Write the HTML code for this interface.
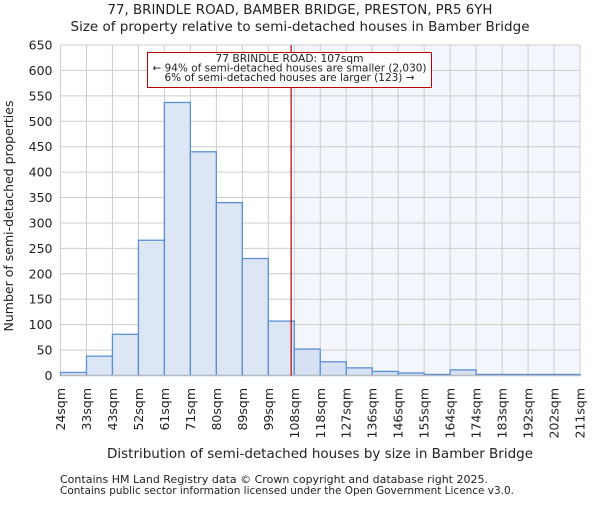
<!DOCTYPE html>
<html><head><meta charset="utf-8"><style>
body{margin:0;background:#fff;}
svg text{font-family:"DejaVu Sans","Liberation Sans",sans-serif;fill:#222;}
</style></head><body>
<svg id="chart" width="600" height="500" viewBox="0 0 600 500" xmlns="http://www.w3.org/2000/svg">
<text x="300" y="14" font-size="13.3" text-anchor="middle" textLength="385" lengthAdjust="spacingAndGlyphs">77, BRINDLE ROAD, BAMBER BRIDGE, PRESTON, PR5 6YH</text>
<text x="300" y="31" font-size="13.3" text-anchor="middle" textLength="459" lengthAdjust="spacingAndGlyphs">Size of property relative to semi-detached houses in Bamber Bridge</text>
<g id="plot"></g>
<text x="320" y="458" font-size="13.4" text-anchor="middle" textLength="426" lengthAdjust="spacingAndGlyphs">Distribution of semi-detached houses by size in Bamber Bridge</text>
<text transform="translate(13,216) rotate(-90)" font-size="12.5" text-anchor="middle">Number of semi-detached properties</text>
<text x="60" y="483" font-size="10.5" fill="#444" textLength="428" lengthAdjust="spacingAndGlyphs">Contains HM Land Registry data © Crown copyright and database right 2025.</text>
<text x="60" y="494" font-size="10.5" fill="#444" textLength="454" lengthAdjust="spacingAndGlyphs">Contains public sector information licensed under the Open Government Licence v3.0.</text>
</svg>
<script>
const binLabels=["24sqm","33sqm","43sqm","52sqm","61sqm","71sqm","80sqm","89sqm","99sqm","108sqm","118sqm","127sqm","136sqm","146sqm","155sqm","164sqm","174sqm","183sqm","192sqm","202sqm","211sqm"];
const counts=[6,38,81,266,537,440,340,230,107,52,27,15,8,5,2,11,2,2,2,2];
const yTicks=[0,50,100,150,200,250,300,350,400,450,500,550,600,650];
const markerBin=8.88;
const NS="http://www.w3.org/2000/svg";
const g=document.getElementById('plot');
const X0=60.5,X1=580,Y0=375.5,Y1=45,YMAX=650;
const nb=counts.length;
const xs=i=>X0+(X1-X0)*i/nb;
const ys=v=>Y0-(Y0-Y1)*v/YMAX;
function mk(t,a){const e=document.createElementNS(NS,t);for(const k in a)e.setAttribute(k,a[k]);g.appendChild(e);return e;}
let e;
const hb=Math.ceil(markerBin);
e=mk('rect',{x:xs(hb),y:Y1,width:X1-xs(hb),height:Y0-Y1,fill:'#f3f6fd'});


yTicks.forEach(v=>{
 e=mk('line',{x1:X0,x2:X1,y1:ys(v),y2:ys(v),stroke:'#cccccc','stroke-width':1});
 
 
 e=mk('text',{x:X0-8,y:ys(v)+4.5,'font-size':12.5,'text-anchor':'end'});e.textContent=v;
 
 
});
binLabels.forEach((l,i)=>{
 e=mk('line',{x1:xs(i),x2:xs(i),y1:Y1,y2:Y0,stroke:'#cccccc','stroke-width':1});
 
 
 e=mk('text',{transform:`translate(${xs(i)+4.5},388) rotate(-90)`,'font-size':12.5,'text-anchor':'end'});e.textContent=l;
 
 
});
counts.forEach((c,i)=>{
 e=mk('rect',{x:xs(i),y:ys(c),width:xs(i+1)-xs(i),height:Y0-ys(c),fill:i>=hb?'#d6e1f3':'#dde6f4',stroke:'#5b8fd6','stroke-width':1.3});
 
 
});
e=mk('line',{x1:X0,x2:X1,y1:Y0,y2:Y0,stroke:'#bbb','stroke-width':1});


const mx=xs(markerBin);
e=mk('line',{x1:mx,x2:mx,y1:Y1,y2:Y0,stroke:'#c00000','stroke-width':1.2});


e=mk('rect',{x:147.5,y:52.5,width:284,height:35,fill:'#fff',stroke:'#c00000','stroke-width':1});


[["77 BRINDLE ROAD: 107sqm",62,148],["← 94% of semi-detached houses are smaller (2,030)",71.5,274],["6% of semi-detached houses are larger (123) →",81,250]].forEach((t,k)=>{
 e=mk('text',{x:289.5,y:t[1],'font-size':10.5,'text-anchor':'middle',textLength:t[2],lengthAdjust:'spacingAndGlyphs'});e.textContent=t[0];
 
 
});
</script>
</body></html>
